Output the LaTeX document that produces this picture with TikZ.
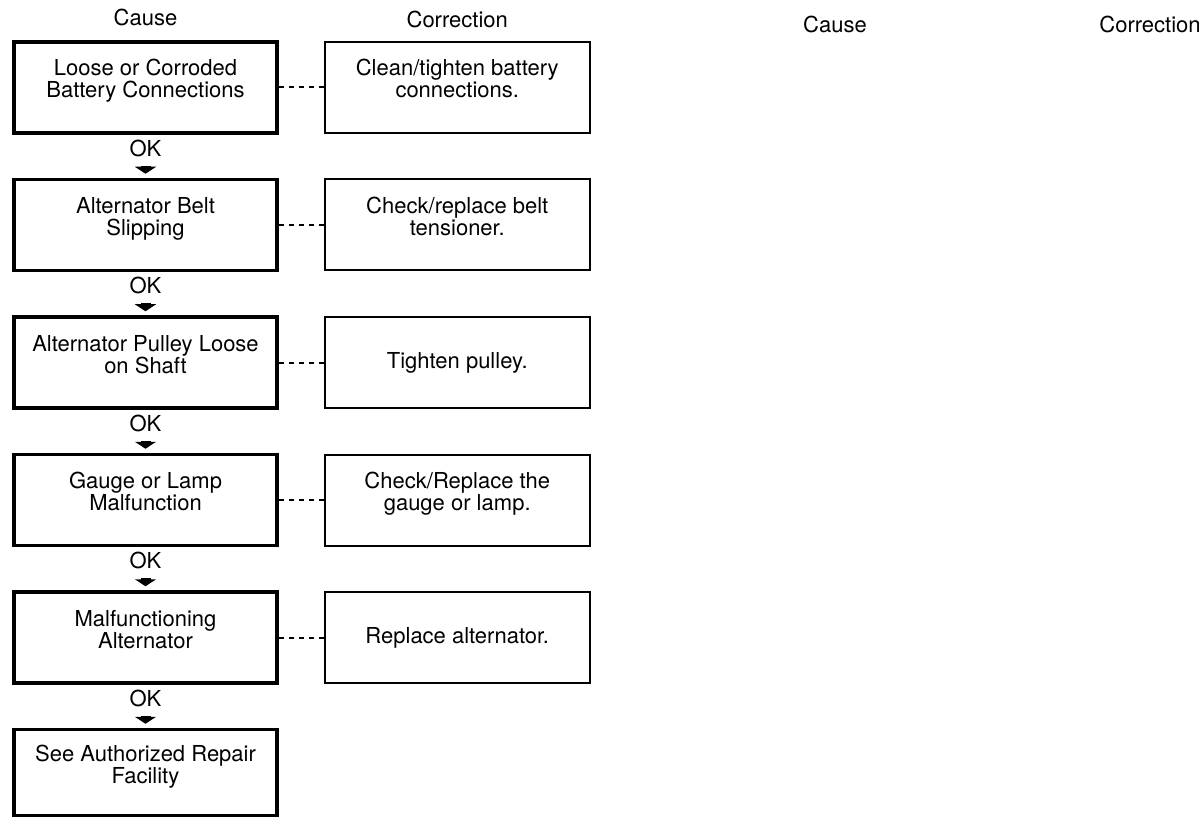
\documentclass[tikz,border=0pt]{standalone}
\usepackage{fontspec}
\setmainfont{TeX Gyre Heros}
\usepackage{tikz}
\usetikzlibrary{arrows.meta,positioning}
\newcommand{\chartfont}{\fontsize{22pt}{22pt}\selectfont}
\tikzset{
  causebox/.style={draw=black,line width=3.5pt,minimum width=263pt,minimum height=91pt,
                   inner sep=4pt,align=center,font=\chartfont},
  fixbox/.style  ={draw=black,line width=2pt,minimum width=265pt,minimum height=91pt,
                   inner sep=4pt,align=center,font=\chartfont},
  twoline/.style ={text height=37pt,text depth=16pt},
  head/.style    ={font=\chartfont,inner sep=0pt},
  oklabel/.style ={font=\chartfont,inner sep=0pt},
  link/.style    ={line width=2pt,dash pattern=on 5pt off 5pt},
  okarrow/.style ={-{Triangle[length=7pt,width=21pt]},line width=10pt,
                   shorten <=9pt,shorten >=4pt}
}
\begin{document}
\begin{tikzpicture}[x=1pt,y=-1pt,node distance=43pt]
    \useasboundingbox (0,0) rectangle (1202,818);
    % cause column
    \node[causebox,twoline] (c1) at (145.5,87.5) {Loose or Corroded\\Battery Connections};
    \node[causebox,twoline,below=of c1] (c2) {Alternator Belt\\Slipping};
    \node[causebox,twoline,below=of c2] (c3) {Alternator Pulley Loose\\on Shaft};
    \node[causebox,twoline,below=of c3] (c4) {Gauge or Lamp\\Malfunction};
    \node[causebox,twoline,below=of c4] (c5) {Malfunctioning\\Alternator};
    \node[causebox,twoline,below=of c5,minimum height=86pt] (c6) {See Authorized Repair\\Facility};
    % correction column
    \node[fixbox,twoline,right=45pt of c1] (r1) {Clean/tighten battery\\connections.};
    \node[fixbox,twoline,right=45pt of c2] (r2) {Check/replace belt\\tensioner.};
    \node[fixbox,right=45pt of c3] (r3) {Tighten pulley.};
    \node[fixbox,twoline,right=45pt of c4] (r4) {Check/Replace the\\gauge or lamp.};
    \node[fixbox,right=45pt of c5] (r5) {Replace alternator.};
    \draw[link] (c1)--(r1); \draw[link] (c2)--(r2); \draw[link] (c3)--(r3);
    \draw[link] (c4)--(r4); \draw[link] (c5)--(r5);
    % OK steps
    \node[oklabel,below=5pt of c1] (ok1) {OK};
    \node[oklabel,below=5pt of c2] (ok2) {OK};
    \node[oklabel,below=5pt of c3] (ok3) {OK};
    \node[oklabel,below=5pt of c4] (ok4) {OK};
    \node[oklabel,below=5pt of c5] (ok5) {OK};
    \draw[okarrow] (ok1)--(c2); \draw[okarrow] (ok2)--(c3);
    \draw[okarrow] (ok3)--(c4); \draw[okarrow] (ok4)--(c5);
    \draw[okarrow] (ok5)--(c6);
    % headings
    \node[head,above=14pt of c1] (hcause) {Cause};
    \node[head,above=13pt of r1] (hfix) {Correction};
    \node[head] (hcause2) at (835,24) {Cause};
    \node[head] (hfix2) at (1150,24) {Correction};
\end{tikzpicture}
\end{document}
